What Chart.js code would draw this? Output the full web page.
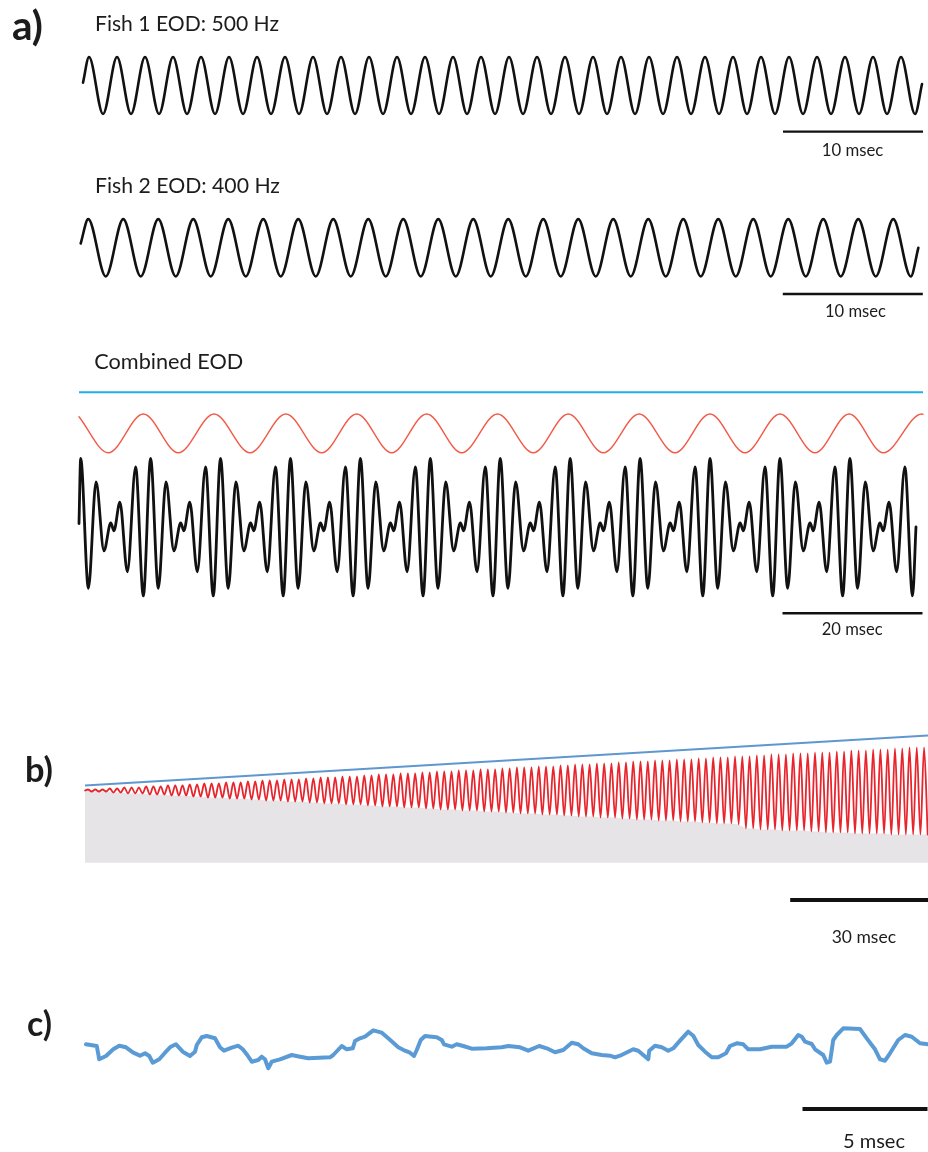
<!DOCTYPE html>
<html><head><meta charset="utf-8">
<script src="https://cdn.jsdelivr.net/npm/chart.js@4.4.0/dist/chart.umd.min.js"></script>
<style>
html,body{margin:0;padding:0;background:#fff;}
#wrap{position:relative;width:928px;height:1152px;overflow:hidden;background:#fff;}
canvas{position:absolute;left:0;top:0;}
svg{position:absolute;left:0;top:0;}
text{font-family:Lato,'Open Sans',sans-serif;fill:#1c1c1c;}
</style></head>
<body><div id="wrap"><canvas id="c" width="928" height="1152"></canvas>
<svg width="928" height="1152">
<text x="12" y="40" data-w="31" font-weight="bold">a)</text>
<text x="25" y="782" data-w="28" font-weight="bold">b)</text>
<text x="27" y="1036" data-w="25" font-weight="bold">c)</text>
<text x="95" y="31" data-w="184">Fish 1 EOD: 500 Hz</text>
<text x="95" y="192.5" data-w="185">Fish 2 EOD: 400 Hz</text>
<text x="94.3" y="368.5" data-w="149">Combined EOD</text>
<text x="821.7" y="155.5" data-w="61.6">10 msec</text>
<text x="825" y="317" data-w="61">10 msec</text>
<text x="821.7" y="635" data-w="61">20 msec</text>
<text x="831.7" y="943" data-w="64.3">30 msec</text>
<text x="843" y="1147.5" data-w="62">5 msec</text>
</svg></div>
<script>
// ---------- DATA ----------
// a) Fish 1, 500 Hz: times (ms) of peaks and troughs, amplitude in units
const fish1PeakTimes = [0.43,2.43,4.43,6.43,8.43,10.43,12.43,14.43,16.43,18.43,20.43,22.43,24.43,26.43,28.43,30.43,32.43,34.43,36.43,38.43,40.43,42.43,44.43,46.43,48.43,50.43,52.43,54.43,56.43,58.43];
const fish1TroughTimes = [1.43,3.43,5.43,7.43,9.43,11.43,13.43,15.43,17.43,19.43,21.43,23.43,25.43,27.43,29.43,31.43,33.43,35.43,37.43,39.43,41.43,43.43,45.43,47.43,49.43,51.43,53.43,55.43,57.43,59.43];
const fish1Ends = [[0,0.1],[59.93,0.05]];
const fish1Scale = [50,60];            // 10 msec bar

// a) Fish 2, 400 Hz
const fish2PeakTimes = [0.54,3.04,5.54,8.04,10.54,13.04,15.54,18.04,20.54,23.04,25.54,28.04,30.54,33.04,35.54,38.04,40.54,43.04,45.54,48.04,50.54,53.04,55.54,58.04];
const fish2TroughTimes = [1.79,4.29,6.79,9.29,11.79,14.29,16.79,19.29,21.79,24.29,26.79,29.29,31.79,34.29,36.79,39.29,41.79,44.29,46.79,49.29,51.79,54.29,56.79,59.29];
const fish2Ends = [[0,0.15],[59.83,0]];
const fish2Scale = [50.15,60.15];      // 10 msec bar

// a) Combined EOD: extremes of the black trace (ms, units)
const combTimes = [0,
0.24,1.34,2.44,3.57,4.54,4.99,5.84,6.91,8.09,9.19,
10.23,11.33,12.43,13.56,14.53,14.98,15.83,16.9,18.08,19.18,
20.22,21.32,22.42,23.55,24.52,24.97,25.82,26.89,28.07,29.17,
30.21,31.31,32.41,33.54,34.51,34.96,35.81,36.88,38.06,39.16,
40.2,41.3,42.4,43.53,44.5,44.95,45.8,46.87,48.05,49.15,
50.19,51.29,52.39,53.52,54.49,54.94,55.79,56.86,58.04,59.14,
60.18,61.28,62.38,63.51,64.48,64.93,65.78,66.85,68.03,69.13,
70.17,71.27,72.37,73.5,74.47,74.92,75.77,76.84,78.02,79.12,
80.16,81.26,82.36,83.49,84.46,84.91,85.76,86.83,88.01,89.11,
90.15,91.25,92.35,93.48,94.45,94.9,95.75,96.82,98.0,99.1,
100.14,101.24,102.34,103.47,104.44,104.89,105.74,106.81,107.99,109.09,
110.13,111.23,112.33,113.46,114.43,114.88,115.73,116.8,117.98,119.08,
119.57];
const combValues = [0.1,
1.96,-1.75,1.29,-0.68,0.12,-0.11,0.71,-1.28,1.72,-1.97,
1.96,-1.75,1.29,-0.68,0.12,-0.11,0.71,-1.28,1.72,-1.97,
1.96,-1.75,1.29,-0.68,0.12,-0.11,0.71,-1.28,1.72,-1.97,
1.96,-1.75,1.29,-0.68,0.12,-0.11,0.71,-1.28,1.72,-1.97,
1.96,-1.75,1.29,-0.68,0.12,-0.11,0.71,-1.28,1.72,-1.97,
1.96,-1.75,1.29,-0.68,0.12,-0.11,0.71,-1.28,1.72,-1.97,
1.96,-1.75,1.29,-0.68,0.12,-0.11,0.71,-1.28,1.72,-1.97,
1.96,-1.75,1.29,-0.68,0.12,-0.11,0.71,-1.28,1.72,-1.97,
1.96,-1.75,1.29,-0.68,0.12,-0.11,0.71,-1.28,1.72,-1.97,
1.96,-1.75,1.29,-0.68,0.12,-0.11,0.71,-1.28,1.72,-1.97,
1.96,-1.75,1.29,-0.68,0.12,-0.11,0.71,-1.28,1.72,-1.97,
1.96,-1.75,1.29,-0.68,0.12,-0.11,0.71,-1.28,1.72,-1.97,
0];
// beat (red) trace extremes
const beatTimes = [0,4.19,9.19,14.19,19.3,24.43,29.55,34.67,39.67,44.67,49.67,54.67,59.79,64.9,69.9,74.9,80.02,85.14,90.14,95.14,100.14,105.14,110.02,114.9,120.4,120.57];
const beatValues = [3.15,2.12,3.23,2.12,3.23,2.12,3.23,2.12,3.23,2.12,3.23,2.12,3.23,2.12,3.23,2.12,3.23,2.12,3.23,2.12,3.23,2.12,3.23,2.12,3.23,3.22];
const combBlueLine = [[0,3.85],[120.57,3.85]];
const combScale = [100.5,120.5];       // 20 msec bar

// b) growing oscillation: peak heights and trough depths per cycle
const bPeaks = [0.1,0.1,0.1,0.2,0.2,0.3,0.3,0.3,0.4,0.4,
0.4,0.5,0.5,0.5,0.6,0.6,0.7,0.7,0.7,0.8,
0.8,0.8,0.9,0.9,1.0,1.0,1.0,1.1,1.1,1.1,
1.2,1.2,1.3,1.3,1.3,1.4,1.4,1.4,1.5,1.5,
1.6,1.6,1.6,1.7,1.7,1.7,1.8,1.8,1.9,1.9,
1.9,2.0,2.0,2.0,2.1,2.1,2.1,2.2,2.2,2.3,
2.3,2.3,2.4,2.4,2.4,2.5,2.5,2.6,2.6,2.6,
2.7,2.7,2.7,2.8,2.8,2.9,2.9,2.9,3.0,3.0,
3.0,3.1,3.1,3.1,3.2,3.2,3.3,3.3,3.3,3.4,
3.4,3.4,3.5,3.5,3.6,3.6,3.6,3.7,3.7,3.7,
3.8,3.8,3.8,3.9,3.9,4.0,4.0,4.0,4.1,4.1,
4.1,4.2,4.2,4.3,4.3,4.3];
const bTroughs = [-0.1,-0.1,-0.1,-0.2,-0.2,-0.3,-0.3,-0.3,-0.4,-0.4,
-0.4,-0.5,-0.5,-0.5,-0.6,-0.6,-0.7,-0.7,-0.7,-0.8,
-0.8,-0.8,-0.9,-0.9,-1.0,-1.0,-1.0,-1.1,-1.1,-1.1,
-1.2,-1.2,-1.3,-1.3,-1.3,-1.4,-1.4,-1.4,-1.5,-1.5,
-1.6,-1.6,-1.6,-1.7,-1.7,-1.7,-1.8,-1.8,-1.9,-1.9,
-1.9,-2.0,-2.0,-2.0,-2.1,-2.1,-2.1,-2.2,-2.2,-2.3,
-2.3,-2.3,-2.4,-2.4,-2.4,-2.5,-2.5,-2.6,-2.6,-2.6,
-2.7,-2.7,-2.7,-2.8,-2.8,-2.9,-2.9,-2.9,-3.0,-3.0,
-3.0,-3.1,-3.1,-3.1,-3.2,-3.2,-3.3,-3.3,-3.3,-3.4,
-3.8,-3.8,-3.9,-3.9,-3.9,-4.0,-4.0,-4.0,-4.0,-4.1,
-4.1,-4.2,-4.2,-4.2,-4.2,-4.3,-4.3,-4.3,-4.3,-4.3,
-4.4,-4.4,-4.4,-4.4,-4.4,-4.4];
const bStart = [-0.8,0];
const bBlueLine = [[-0.83,0.5],[231.09,5.5]];
const bFloor = -7.22;
const bScale = [153.3,183.3];          // 30 msec bar

// c) recorded trace (ms, units)
const cTimes = [0.04,0.47,0.57,0.84,1.13,1.37,1.64,1.93,2.2,2.4,2.57,2.71,2.97,3.2,3.43,3.64,3.91,4.2,4.4,4.47,4.67,4.87,5.2,5.4,5.56,5.87,6.13,6.31,6.49,6.67,6.93,7.07,7.2,7.33,7.47,7.8,8.27,8.6,8.93,9.8,
9.93,10.27,10.47,10.71,10.8,11.0,11.2,11.53,11.87,12.13,12.53,12.8,13.0,13.16,13.27,13.43,13.6,14.07,14.27,14.36,14.67,14.87,15.13,15.47,16.07,16.67,16.93,17.4,17.73,18.17,18.47,18.8,19.13,19.47,19.73,19.93,20.27,20.67,21.0,21.2,21.4,
21.93,22.13,22.33,22.53,22.57,22.8,23.07,23.33,23.53,23.8,24.13,24.33,24.53,24.8,25.07,25.33,25.64,25.8,26.07,26.33,26.53,27.0,27.47,28.07,28.27,28.53,28.67,28.8,29.07,29.2,29.53,29.67,29.8,29.93,30.07,30.33,31.0,31.27,31.6,31.8,32.0,32.2,32.53,32.8,33.07,33.4,33.72];
const cValues = [0.57,0.4,-0.93,-0.6,0.07,0.43,0.27,-0.27,-0.57,-0.33,-0.6,-1.27,-0.93,-0.27,0.33,0.57,-0.17,-0.6,-0.17,0.5,1.27,1.4,1.17,0.27,-0.07,0.23,0.43,0.07,-0.5,-1.17,-1.0,-0.67,-0.93,-1.83,-1.17,-0.93,-0.5,-0.67,-0.83,-0.73,
-0.5,0.4,0.07,0.17,0.9,1.17,1.33,1.97,1.73,1.17,0.27,-0.07,-0.27,-0.6,0,1.0,1.4,1.27,1.0,0.57,0.33,0.57,0.4,0.13,0.17,0.27,0.4,0.27,-0.07,0.4,0.17,-0.23,0,0.73,0.57,0.17,-0.33,-0.5,-0.57,-0.73,-0.57,
0.07,-0.07,-0.5,-0.93,-0.07,0.43,0.27,-0.07,0.17,0.93,1.83,1.43,0.5,-0.17,-0.73,-0.73,-0.33,0.4,0.67,0.57,0.07,0.07,0.33,0.33,0.67,1.5,1.33,0.83,0.6,0.07,-0.5,-1.27,-1.17,1.0,1.5,2.17,2.1,1.17,0.07,-0.93,-1.07,-0.33,1.0,1.5,1.33,0.67,0.57];
const cScale = [28.7,33.7];            // 5 msec bar

// ---------- build point tables ----------
function pairs(xs, ys){ return xs.map((x,i)=>({x:x, y:ys[i]})); }
function sineTable(peaks, troughs, ends){
  const p = [{x:ends[0][0], y:ends[0][1]}];
  peaks.forEach(t=>p.push({x:t,y:1}));
  troughs.forEach(t=>p.push({x:t,y:-1}));
  p.push({x:ends[1][0], y:ends[1][1]});
  return p.sort((a,b)=>a.x-b.x);
}
function bar(range, y){ return [{x:range[0],y:y},{x:range[1],y:y}]; }
function seg(a){ return a.map(q=>({x:q[0],y:q[1]})); }

const bRed = [{x:bStart[0], y:bStart[1]}];
const bGray = [{x:bBlueLine[0][0], y:bStart[1]}];
for (let k=0;k<bPeaks.length;k++){
  bRed.push({x:2*k, y:bPeaks[k]});
  bRed.push({x:2*k+1, y:bTroughs[k]});
  bGray.push({x:2*k+1, y:bTroughs[k]});
}
bGray.push({x:bBlueLine[1][0], y:bTroughs[bTroughs.length-1]});

const base = {pointRadius:0, pointHoverRadius:0, fill:false, borderJoinStyle:'round', borderCapStyle:'round', order:1};
const D = [];
function add(o){ D.push(Object.assign({}, base, o)); }

add({data:sineTable(fish1PeakTimes, fish1TroughTimes, fish1Ends), xAxisID:'xF1', yAxisID:'yF1', borderColor:'#111', borderWidth:2.6, cubicInterpolationMode:'monotone'});
add({data:bar(fish1Scale,-1.62), xAxisID:'xF1', yAxisID:'yF1', borderColor:'#111', borderWidth:2.4, borderCapStyle:'butt'});
add({data:sineTable(fish2PeakTimes, fish2TroughTimes, fish2Ends), xAxisID:'xF2', yAxisID:'yF2', borderColor:'#111', borderWidth:2.6, cubicInterpolationMode:'monotone'});
add({data:bar(fish2Scale,-1.61), xAxisID:'xF2', yAxisID:'yF2', borderColor:'#111', borderWidth:2.4, borderCapStyle:'butt'});

add({data:seg(combBlueLine), xAxisID:'xC', yAxisID:'yC', borderColor:'#22aee6', borderWidth:2.2, borderCapStyle:'butt'});
add({data:pairs(beatTimes, beatValues), xAxisID:'xC', yAxisID:'yC', borderColor:'#f25a48', borderWidth:1.4, cubicInterpolationMode:'monotone'});
add({data:pairs(combTimes, combValues), xAxisID:'xC', yAxisID:'yC', borderColor:'#111', borderWidth:2.8, cubicInterpolationMode:'monotone'});
add({data:bar(combScale,-2.466), xAxisID:'xC', yAxisID:'yC', borderColor:'#111', borderWidth:2.4, borderCapStyle:'butt'});

add({data:bGray, xAxisID:'xB', yAxisID:'yB', borderWidth:0, borderColor:'rgba(0,0,0,0)', backgroundColor:'#e6e4e6', fill:{value:bFloor}, order:10});
add({data:bRed, xAxisID:'xB', yAxisID:'yB', borderColor:'#e8242c', borderWidth:1.8, cubicInterpolationMode:'monotone'});
add({data:seg(bBlueLine), xAxisID:'xB', yAxisID:'yB', borderColor:'#5f97d0', borderWidth:2.2, borderCapStyle:'butt'});
add({data:bar(bScale,-10.95), xAxisID:'xBms', yAxisID:'yB', borderColor:'#111', borderWidth:4, borderCapStyle:'butt'});

add({data:pairs(cTimes, cValues), xAxisID:'xCc', yAxisID:'yCc', borderColor:'#5b9bd5', borderWidth:4, tension:0});
add({data:bar(cScale,-5.9), xAxisID:'xCc', yAxisID:'yCc', borderColor:'#111', borderWidth:4, borderCapStyle:'butt'});

function lin(axis,min,max){ return {type:'linear', axis:axis, display:false, min:min, max:max}; }

new Chart(document.getElementById('c'), {
  type:'line',
  data:{datasets:D},
  options:{
    responsive:false, animation:false, devicePixelRatio:1, events:[],
    layout:{padding:0},
    plugins:{legend:{display:false}, tooltip:{enabled:false}},
    scales:{
      xF1:lin('x',-5.9286,60.357), yF1:lin('y',-37.42,3.0),
      xF2:lin('x',-5.764,60.521),  yF2:lin('y',-31.505,8.634),
      xC:lin('x',-11.286,121.286), yC:lin('y',-17.857,15.057),
      xB:lin('x',-24.209,231.087), xBms:lin('x',-18.478,183.26), yB:lin('y',-36.15,79.05),
      xCc:lin('x',-3.4,33.72), yCc:lin('y',-10.2,105)
    }
  }
});

// fit label widths to the reference
document.querySelectorAll('svg text').forEach(t=>{
  t.setAttribute('font-size','20');
  const w = t.getComputedTextLength();
  const target = parseFloat(t.getAttribute('data-w'));
  if (w>0) t.setAttribute('font-size', (20*target/w).toFixed(2));
});
</script>
</body></html>
